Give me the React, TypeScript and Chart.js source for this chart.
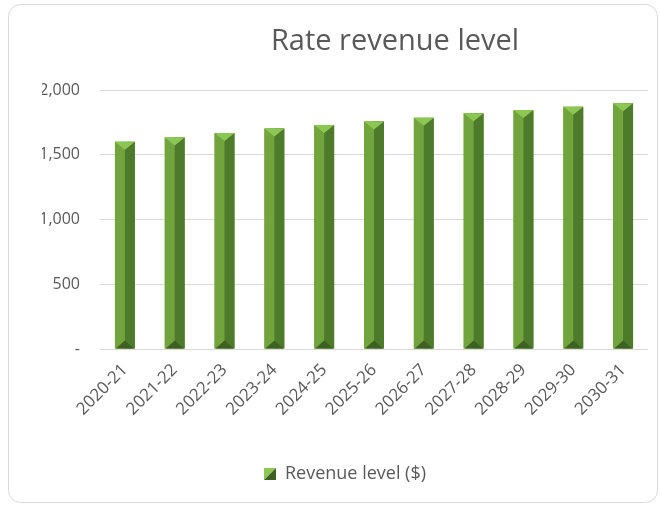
import React, { useEffect, useRef } from "react";
import { Chart, registerables } from "chart.js";

Chart.register(...registerables);

const categories = [
  "2020-21", "2021-22", "2022-23", "2023-24", "2024-25", "2025-26",
  "2026-27", "2027-28", "2028-29", "2029-30", "2030-31",
];
const revenue = [1600, 1633, 1668, 1703, 1730, 1757, 1785, 1820, 1845, 1870, 1897];
const yTickValues = [0, 500, 1000, 1500, 2000];
const chartTitle = "Rate revenue level";
const seriesLabel = "Revenue level ($)";

const FONT = "'Open Sans', 'Noto Sans', sans-serif";
const TEXT = "#595959";
const GRID = "#d9d9d9";
const C_LIGHT = "#72a43e";
const C_DARK = "#4e7a2b";
const C_TOP = "#8cc653";
const C_BOTTOM = "#3d6121";

function makeLegendSwatch(): HTMLCanvasElement {
  const c = document.createElement("canvas");
  c.width = 12;
  c.height = 12;
  const g = c.getContext("2d")!;
  g.fillStyle = C_TOP;
  g.beginPath();
  g.moveTo(0, 0);
  g.lineTo(12, 0);
  g.lineTo(0, 12);
  g.closePath();
  g.fill();
  g.fillStyle = C_BOTTOM;
  g.beginPath();
  g.moveTo(12, 0);
  g.lineTo(12, 12);
  g.lineTo(0, 12);
  g.closePath();
  g.fill();
  return c;
}

const framePlugin = {
  id: "frame",
  beforeDraw(chart: any) {
    const ctx = chart.ctx;
    ctx.save();
    ctx.fillStyle = "#ffffff";
    ctx.fillRect(0, 0, chart.width, chart.height);
    ctx.strokeStyle = GRID;
    ctx.lineWidth = 1;
    ctx.beginPath();
    (ctx as any).roundRect(8.5, 4.5, 649, 498, 12);
    ctx.stroke();
    ctx.restore();
  },
};

const titlePlugin = {
  id: "customTitle",
  afterDraw(chart: any) {
    const ctx = chart.ctx;
    ctx.save();
    ctx.fillStyle = TEXT;
    ctx.font = `29px ${FONT}`;
    ctx.textAlign = "center";
    ctx.textBaseline = "middle";
    ctx.fillText(chartTitle, 395, 42);
    ctx.restore();
  },
};

const bevelPlugin = {
  id: "bevel",
  afterDatasetsDraw(chart: any) {
    const ctx = chart.ctx;
    const meta = chart.getDatasetMeta(0);
    ctx.save();
    meta.data.forEach((el: any) => {
      const { x, y, base, width } = el.getProps(["x", "y", "base", "width"], true);
      const l = x - width / 2;
      const r = x + width / 2;
      const d = width * 0.4;
      ctx.fillStyle = C_LIGHT;
      ctx.fillRect(l, y, width / 2, base - y);
      ctx.fillStyle = C_DARK;
      ctx.fillRect(x, y, width / 2, base - y);
      ctx.fillStyle = C_TOP;
      ctx.beginPath();
      ctx.moveTo(l, y);
      ctx.lineTo(r, y);
      ctx.lineTo(x, y + d);
      ctx.closePath();
      ctx.fill();
      ctx.fillStyle = C_BOTTOM;
      ctx.beginPath();
      ctx.moveTo(l + 1, base);
      ctx.lineTo(r - 1, base);
      ctx.lineTo(x, base - d);
      ctx.closePath();
      ctx.fill();
    });
    ctx.restore();
  },
};

export default function App() {
  const ref = useRef<HTMLCanvasElement>(null);

  useEffect(() => {
    if (!ref.current) return;
    const swatch = makeLegendSwatch();
    const chart = new Chart(ref.current, {
      type: "bar",
      data: {
        labels: categories,
        datasets: [
          {
            label: seriesLabel,
            data: revenue,
            backgroundColor: C_LIGHT,
            borderWidth: 0,
            barPercentage: 0.4,
            categoryPercentage: 1,
          },
        ],
      },
      options: {
        animation: false,
        responsive: false,
        maintainAspectRatio: false,
        layout: { padding: { top: 90, left: 42, right: 12, bottom: 12 } },
        plugins: {
          title: { display: false },
          tooltip: { enabled: false },
          legend: {
            display: true,
            position: "bottom",
            labels: {
              color: TEXT,
              font: { family: FONT, size: 18 },
              usePointStyle: true,
              boxWidth: 12,
              boxHeight: 12,
              padding: 10,
              generateLabels: () => [
                {
                  text: seriesLabel,
                  fillStyle: C_LIGHT,
                  strokeStyle: C_LIGHT,
                  lineWidth: 0,
                  pointStyle: swatch,
                  hidden: false,
                  datasetIndex: 0,
                  fontColor: TEXT,
                },
              ],
            },
          },
        },
        scales: {
          x: {
            grid: { display: false },
            border: { display: false },
            ticks: {
              color: TEXT,
              font: { family: FONT, size: 17 },
              maxRotation: 45,
              minRotation: 45,
              padding: 3,
            },
            afterFit: (s: any) => {
              s.height = 106;
            },
          },
          y: {
            min: 0,
            max: 2000,
            grid: { color: GRID, lineWidth: 1, drawTicks: false },
            border: { display: false },
            afterBuildTicks: (s: any) => {
              s.ticks = yTickValues.map((v) => ({ value: v }));
            },
            ticks: {
              color: TEXT,
              font: { family: FONT, size: 16 },
              padding: 20,
              callback: (v: any) => (Number(v) === 0 ? "-" : Number(v).toLocaleString("en-US")),
            },
            afterFit: (s: any) => {
              s.width = 58;
            },
          },
        },
      },
      plugins: [framePlugin, titlePlugin, bevelPlugin],
    });
    return () => chart.destroy();
  }, []);

  return (
    <div style={{ position: "fixed", left: 0, top: 0, width: 660, height: 505 }}>
      <canvas ref={ref} width={660} height={505} style={{ width: 660, height: 505, display: "block" }} />
    </div>
  );
}
